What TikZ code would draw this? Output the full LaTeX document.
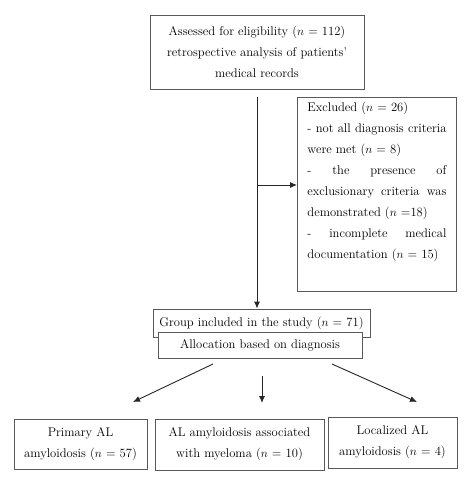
\documentclass[tikz,border=0pt]{standalone}
\usetikzlibrary{arrows.meta}
\tikzset{
  box/.style={shape=rectangle, draw=black!65, line width=0.9pt, fill=white, align=center},
  arr/.style={draw=black!85, line width=0.9pt, -{Latex[length=7pt,width=6pt]}}
}
\begin{document}
\begin{tikzpicture}[x=1pt,y=-1pt, font=\fontsize{12.6}{21}\selectfont]
%%%%%%%%%%%%%%%%%%%%%%%%%%%%%%%%%%%%%%%%%%% HELP LINES
%\draw[help lines] (0,0) grid +(474,483);
\useasboundingbox (0,0) rectangle (474,483);

%%%%%%%%%%%%%%%%%%%%%%%%%%%%%%%%%%%%%%%%%%% elements
\node[box, minimum width=214pt, minimum height=74pt](assess) at (257,52){Assessed for eligibility ($n$ = 112)\\ retrospective analysis of patients'\\ medical records};

%%%%% excluded
\node[box, anchor=north west, text width=139pt, align=justify, inner xsep=10pt, inner ysep=5pt](excl) at (297,97){Excluded ($n$ = 26)\\
- not all diagnosis criteria\linebreak were met ($n$ = 8)\\
- \hfill the \hfill presence \hfill of\linebreak exclusionary criteria was\linebreak demonstrated ($n$ =18)\\
- \hfill incomplete \hfill medical\linebreak documentation ($n$ = 15)\\ \strut};

%%%%% study group
\node[box, minimum width=217pt, minimum height=28pt](group) at (261.5,323){Group included in the study ($n$ = 71)};
\node[box, minimum width=204pt, minimum height=26pt](alloc) at (260,345){Allocation based on diagnosis};

%%%%% diagnosis groups
\node[box, minimum width=133pt, minimum height=50pt](primary) at (80.5,444){Primary AL\\ amyloidosis ($n$ = 57)};
\node[box, minimum width=169pt, minimum height=51pt](myeloma) at (239.5,444.5){AL amyloidosis associated\\ with myeloma ($n$ = 10)};
\node[box, minimum width=129pt, minimum height=51pt](local) at (392.5,442.5){Localized AL\\ amyloidosis ($n$ = 4)};

%%%%% arrows
\coordinate (flow) at (257,97);
\coordinate (split) at (257,185);
\draw[arr] (flow) -- (flow |- group.north);
\draw[arr] (split) -- (split -| excl.west);

\coordinate (l1) at (213,364);
\coordinate (l2) at (133,402);
\coordinate (m1) at (262,376);
\coordinate (m2) at (262,403);
\coordinate (r1) at (332,364);
\coordinate (r2) at (417,402);
\draw[arr] (l1) -- (l2);
\draw[arr] (m1) -- (m2);
\draw[arr] (r1) -- (r2);
\end{tikzpicture}
\end{document}
